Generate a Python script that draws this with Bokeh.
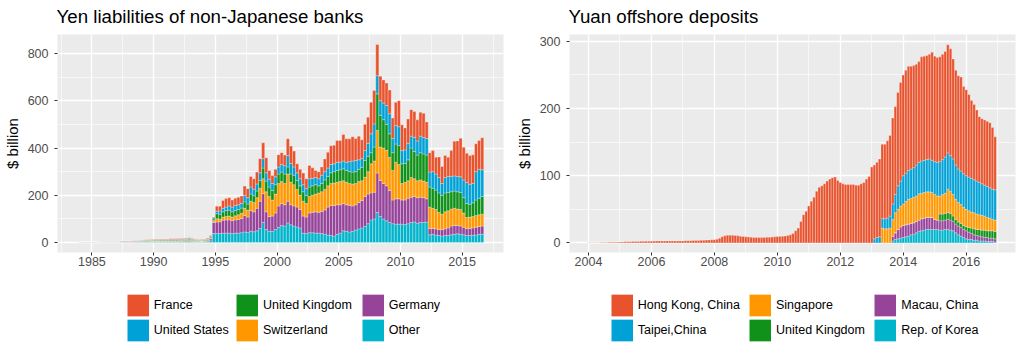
from bokeh.plotting import figure
from bokeh.models import ColumnDataSource, Legend, LegendItem, FixedTicker, Range1d
from bokeh.layouts import row, column
from bokeh.embed import file_html
from bokeh.resources import INLINE

FONT = "Liberation Sans"
RED, BLUE, GREEN, ORANGE, PURPLE, CYAN = "#E8532E", "#00A1D6", "#10921A", "#FF9800", "#96449A", "#00B5CB"

# ---------------- Left panel: yen liabilities, quarterly 1984Q1 .. 2016Q3 ($ billion)
yen_first_year = 1984
yen_other = [
    .6, .6, .6, .6, .6, .6, .8, .8, .8, .8, 1, 1, 1, 1.2, 1.4, 1.4,
    1.4, 1.6, 1.6, 1.8, 2, 2.4, 2.4, 2.6, 2.8, 2.8, 3, 3, 3, 3.2, 3.2, 3.2,
    3.4, 3.4, 3.6, 4, 3.4, 2.8, 2.4, 2.6, 3, 3.6, 8, 38,
    38, 38, 40, 40, 40, 38, 40, 40, 42, 45, 43, 48, 46, 50, 60, 85,
    55, 48, 48, 55, 65, 72, 70, 83, 75, 70, 66, 62, 40, 38, 42, 42,
    40, 40, 38, 36, 32, 30, 28, 35, 40, 50, 48, 45, 48, 53, 58, 62,
    68, 80, 96, 100, 127, 110, 100, 92, 85, 80, 78, 78, 78, 76, 80, 85,
    87, 82, 85, 85, 87, 33, 35, 32, 30, 28, 30, 30, 33, 35, 37, 35,
    33, 30, 30, 31, 32, 35, 35]
yen_germany = [
    .4, .4, .4, .4, .4, .4, .6, .6, .6, .6, .7, .7, .7, .9, 1, 1,
    1, 1.2, 1.2, 1.3, 1.5, 1.8, 1.8, 2, 2.1, 2.1, 2.2, 2.2, 2.2, 2.4, 2.4, 2.4,
    2.5, 2.5, 2.7, 3, 2.5, 2.1, 1.8, 2, 2.2, 2.7, 8, 47,
    49, 50, 55, 56, 56, 55, 56, 58, 60, 70, 65, 87, 84, 95, 115, 122,
    75, 62, 64, 70, 90, 93, 90, 92, 85, 85, 84, 78, 72, 70, 83, 86,
    90, 88, 94, 102, 118, 127, 129, 125, 120, 115, 112, 113, 107, 107, 112, 116,
    127, 125, 114, 113, 167, 153, 150, 148, 135, 100, 107, 107, 102, 104, 108, 107,
    108, 108, 107, 105, 98, 26, 25, 26, 25, 27, 28, 32, 37, 37, 35, 35,
    32, 29, 30, 31, 33, 33, 35]
yen_switzerland = [
    .5, .5, .5, .5, .5, .5, .6, .6, .6, .6, .8, .8, .8, .9, 1.1, 1.1,
    1.1, 1.2, 1.2, 1.4, 1.5, 1.8, 1.8, 1.9, 2.1, 2.1, 2.3, 2.3, 2.3, 2.4, 2.4, 2.4,
    2.6, 2.6, 2.7, 3, 2.6, 2.1, 1.8, 1.9, 2.3, 2.7, 4, 8,
    14, 12, 13, 14, 16, 15, 17, 20, 22, 30, 29, 40, 40, 45, 55, 63,
    85, 85, 68, 80, 95, 93, 90, 115, 95, 90, 75, 60, 63, 57, 70, 72,
    75, 82, 83, 87, 90, 93, 95, 95, 98, 97, 95, 92, 93, 90, 88, 84,
    81, 95, 123, 132, 180, 141, 150, 150, 140, 125, 155, 145, 70, 75, 74, 83,
    75, 72, 73, 70, 70, 91, 85, 82, 72, 65, 72, 73, 72, 73, 70, 70,
    60, 47, 48, 48, 50, 50, 50]
yen_uk = [
    .6, .6, .6, .6, .6, .6, .8, .8, .8, .8, 1, 1, 1, 1.2, 1.4, 1.4,
    1.4, 1.6, 1.6, 1.8, 2, 2.4, 2.4, 2.6, 2.8, 2.8, 3, 3, 3, 3.2, 3.2, 3.2,
    3.4, 3.4, 3.6, 4, 3.4, 2.8, 2.4, 2.6, 3, 3.6, 4, 7,
    21, 20, 22, 25, 25, 22, 23, 22, 22, 27, 26, 30, 28, 28, 32, 45,
    45, 40, 40, 40, 40, 40, 40, 30, 35, 40, 37, 40, 40, 35, 40, 40,
    40, 30, 35, 40, 40, 45, 48, 50, 50, 50, 50, 50, 50, 50, 52, 56,
    71, 65, 47, 59, 155, 134, 120, 110, 100, 75, 77, 80, 83, 80, 88, 125,
    115, 108, 115, 115, 115, 85, 85, 82, 83, 80, 80, 77, 73, 73, 73, 72,
    65, 59, 54, 58, 65, 70, 75]
yen_us = [
    .5, .5, .5, .5, .5, .5, .6, .6, .6, .6, .8, .8, .8, .9, 1.1, 1.1,
    1.1, 1.2, 1.2, 1.4, 1.5, 1.8, 1.8, 1.9, 2.1, 2.1, 2.3, 2.3, 2.3, 2.4, 2.4, 2.4,
    2.6, 2.6, 2.7, 3, 2.6, 2.1, 1.8, 1.9, 2.3, 2.7, 3, 5,
    11, 14, 15, 15, 18, 20, 21, 20, 20, 28, 27, 30, 28, 30, 33, 40,
    35, 33, 30, 33, 30, 32, 35, 48, 45, 35, 33, 30, 30, 28, 35, 32,
    30, 30, 35, 35, 35, 35, 33, 35, 32, 33, 35, 42, 47, 47, 40, 37,
    42, 55, 80, 98, 77, 62, 70, 80, 85, 60, 78, 80, 56, 57, 70, 50,
    60, 60, 70, 70, 70, 63, 70, 68, 65, 50, 65, 68, 65, 64, 65, 66,
    75, 89, 85, 82, 120, 122, 113]
yen_france = [
    .4, .4, .4, .4, .4, .4, .6, .6, .6, .6, .7, .7, .7, .9, 1, 1,
    1, 1.2, 1.2, 1.3, 1.5, 1.8, 1.8, 2, 2.1, 2.1, 2.2, 2.2, 2.2, 2.4, 2.4, 2.4,
    2.5, 2.5, 2.7, 3, 2.5, 2.1, 1.8, 2, 2.2, 2.7, 3, 3,
    21, 20, 33, 36, 35, 30, 31, 32, 31, 39, 38, 45, 44, 50, 60, 67,
    64, 37, 34, 32, 52, 50, 45, 71, 73, 67, 38, 40, 49, 42, 56, 44,
    30, 30, 35, 54, 67, 80, 79, 92, 92, 112, 99, 97, 103, 93, 100, 80,
    111, 110, 133, 141, 132, 103, 98, 95, 100, 87, 98, 110, 109, 93, 103, 112,
    109, 89, 101, 102, 70, 82, 89, 71, 87, 72, 93, 81, 109, 147, 150, 163,
    138, 124, 121, 121, 118, 122, 135]
yen_names = ["France", "United States", "United Kingdom", "Switzerland", "Germany", "Other"]
yen_x_ticks = [1985, 1990, 1995, 2000, 2005, 2010, 2015]
yen_y_ticks = [0, 200, 400, 600, 800]

# ---------------- Right panel: yuan offshore deposits, monthly Jan 2004 .. Dec 2016 ($ billion)
cny_first_year = 2004
cny_hk = [
    0.1, 0.1, 0.2, 0.3, 0.4, 0.5, 0.6, 0.7, 0.8, 0.9, 1.0, 1.1,
    1.3, 1.4, 1.6, 1.7, 1.8, 2.0, 2.1, 2.2, 2.3, 2.4, 2.5, 2.6,
    2.6, 2.7, 2.7, 2.8, 2.8, 2.9, 2.9, 2.9, 2.9, 2.9, 2.9, 3.0,
    3.0, 3.1, 3.2, 3.3, 3.4, 3.5, 3.6, 3.8, 4.0, 4.2, 4.4, 4.6,
    4.8, 5.5, 7.0, 9.0, 10.5, 11.2, 11.5, 11.3, 11.0, 10.5, 10.0, 9.5,
    9.0, 8.6, 8.3, 8.1, 8.0, 8.0, 8.0, 8.1, 8.3, 8.5, 8.7, 9.0,
    9.5, 9.7, 10, 10.3, 11, 12, 14, 18, 22, 32, 42, 47,
    55, 62, 68, 77, 83, 85, 88, 92, 95, 97, 98, 93,
    90, 88, 87, 87, 87, 87, 86, 86, 88, 90, 95, 99,
    113, 110, 112, 116, 111, 111, 115, 120, 128, 131, 139, 147,
    150, 153, 155, 153, 152, 150, 150, 155, 155, 155, 156, 161,
    157, 156, 156, 157, 157, 161, 159, 149, 141, 139, 140, 130,
    128, 123, 116, 112, 106, 98, 97, 97, 97, 97, 92, 79]
cny_none_before_2013 = [0] * 108
cny_taipei = cny_none_before_2013 + [
    0, 6, 8, 9, 14, 15, 16, 18, 23, 27, 35, 37,
    42, 42, 43, 44, 44, 46, 47, 48, 48, 48, 49, 48,
    49, 50, 51, 52, 54, 54, 53, 53, 51, 50, 50, 50,
    50, 50, 50, 49, 49, 48, 47, 46, 46, 45, 45, 45]
cny_singapore = cny_none_before_2013 + [
    0, 0, 0, 0, 22, 21, 21, 22, 25, 30, 30, 31,
    32, 35, 37, 37, 38, 38, 39, 38, 38, 38, 38, 37,
    37, 36, 27, 29, 30, 35, 33, 32, 30, 29, 28, 27,
    26, 25, 24, 24, 23, 22, 22, 21, 20, 19, 17, 17]
cny_uk = cny_none_before_2013 + [
    0, 0, 0, 0, 0, 0, 0, 0, 0, 0, 0, 0,
    0, 0, 0, 0, 0, 0, 0, 0, 0, 0, 0, 0,
    0, 0, 10, 10, 10, 10, 10, 8, 7, 6, 6, 6,
    6, 7, 8, 9, 9, 10, 10, 11, 10, 11, 11, 11]
cny_macau = cny_none_before_2013 + [
    0, 0, 0, 0, 0, 0, 0, 0, 7, 10, 14, 17,
    18, 18, 18, 17, 17, 17, 17, 18, 18, 18, 18, 18,
    15, 14, 14, 14, 14, 15, 15, 14, 13, 13, 13, 12,
    12, 11, 9, 8, 7, 7, 6, 5, 6, 5, 5, 4.5]
cny_korea = cny_none_before_2013 + [
    0, 0, 0, 0, 0, 0, 0, 0, 3, 5, 6, 7,
    8, 9, 10, 12, 13, 15, 17, 18, 19, 20, 20, 20,
    20, 20, 19, 19, 20, 20, 19, 18, 15, 12, 10, 8,
    6, 5, 5, 4, 4, 3, 3, 3, 2, 2, 2, 1.5]
cny_names = ["Hong Kong, China", "Taipei,China", "Singapore", "United Kingdom", "Macau, China", "Rep. of Korea"]
cny_x_ticks = [2004, 2006, 2008, 2010, 2012, 2014, 2016]
cny_y_ticks = [0, 100, 200, 300]

MAIN_H = 290
LEG_H = 68


def style_panel(p, title):
    p.title.text = title
    p.title.text_font = FONT
    p.title.text_font_size = "18.7px"
    p.title.text_font_style = "normal"
    p.title.text_color = "black"
    p.title.align = "left"
    p.title.vertical_align = "top"
    p.title.offset = -1
    p.title.standoff = 11
    p.background_fill_color = "#EBEBEB"
    p.border_fill_color = "white"
    p.outline_line_color = None
    for g in (p.xgrid[0], p.ygrid[0]):
        g.grid_line_color = "white"
        g.grid_line_width = 1.3
        g.minor_grid_line_color = "white"
        g.minor_grid_line_width = 0.6
    for ax in (p.xaxis[0], p.yaxis[0]):
        ax.axis_line_color = None
        ax.major_tick_line_color = "#333333"
        ax.major_tick_in = 0
        ax.major_tick_out = 3
        ax.minor_tick_line_color = None
        ax.major_label_text_font = FONT
        ax.major_label_text_font_size = "12.5px"
        ax.major_label_text_color = "#4D4D4D"
        ax.axis_label_text_font = FONT
        ax.axis_label_text_font_size = "15px"
        ax.axis_label_text_font_style = "normal"
        ax.axis_label_text_color = "black"
    p.xaxis[0].major_label_standoff = 0
    p.yaxis[0].major_label_standoff = 5
    p.yaxis[0].axis_label = "$ billion"
    p.yaxis[0].axis_label_standoff = 4


def legend_figure(source, fields, names, colors, col_x):
    lf = figure(width=512, height=LEG_H, x_range=Range1d(0, 1), y_range=Range1d(0, 1),
                x_axis_type=None, y_axis_type=None, output_backend="svg", toolbar_location=None,
                min_border=0, outline_line_color=None)
    lf.background_fill_color = "white"
    lf.border_fill_color = "white"
    items = []
    # legend keys: series drawn as thick lines (they fall outside this figure's ranges,
    # so only the legend glyphs show)
    for fld, name, colr in zip(fields, names, colors):
        r = lf.line(x="x", y=fld, source=source, line_color=colr, line_width=21.7, line_cap="butt")
        items.append(LegendItem(label=name, renderers=[r]))
    for c in range(3):
        lg = Legend(items=items[2 * c:2 * c + 2], location=(col_x[c], 16),
                    orientation="vertical", glyph_width=22, glyph_height=24, spacing=1,
                    label_standoff=5, padding=0, margin=0, border_line_color=None,
                    background_fill_alpha=0, label_text_font=FONT,
                    label_text_font_size="12.5px", label_text_color="black")
        lf.add_layout(lg, "center")
    return lf


# ---------------- build left
yen_x = [yen_first_year + 0.125 + 0.25 * i for i in range(len(yen_france))]
src_l = ColumnDataSource(dict(x=yen_x, other=yen_other, germany=yen_germany, switzerland=yen_switzerland,
                              uk=yen_uk, us=yen_us, france=yen_france))
pl = figure(width=512, height=MAIN_H, x_range=Range1d(1982.21, 2018.35), y_range=Range1d(-41.9, 880),
            output_backend="svg", toolbar_location=None,
            min_border_left=57, min_border_right=9, min_border_top=0, min_border_bottom=38)
style_panel(pl, "Yen liabilities of non-Japanese banks")
pl.vbar_stack(["other", "germany", "switzerland", "uk", "us", "france"], x="x", width=0.25,
              color=[CYAN, PURPLE, ORANGE, GREEN, BLUE, RED], line_color="white", line_width=0.3,
              source=src_l)
pl.xaxis[0].ticker = FixedTicker(ticks=yen_x_ticks, minor_ticks=[t + 2.5 for t in [1980] + yen_x_ticks])
pl.yaxis[0].ticker = FixedTicker(ticks=yen_y_ticks, minor_ticks=[100, 300, 500, 700])
ll = legend_figure(src_l, ["france", "us", "uk", "switzerland", "germany", "other"], yen_names,
                   [RED, BLUE, GREEN, ORANGE, PURPLE, CYAN], [126.7, 236, 361.7])

# ---------------- build right
cny_x = [cny_first_year + i / 12 for i in range(len(cny_hk))]
src_r = ColumnDataSource(dict(x=cny_x, korea=cny_korea, macau=cny_macau, uk=cny_uk, sg=cny_singapore,
                              tw=cny_taipei, hk=cny_hk))
pr = figure(width=512, height=MAIN_H, x_range=Range1d(2003.397, 2017.565), y_range=Range1d(-14.3, 310.3),
            output_backend="svg", toolbar_location=None,
            min_border_left=57, min_border_right=9, min_border_top=0, min_border_bottom=38)
style_panel(pr, "Yuan offshore deposits")
pr.vbar_stack(["korea", "macau", "uk", "sg", "tw", "hk"], x="x", width=1 / 12,
              color=[CYAN, PURPLE, GREEN, ORANGE, BLUE, RED], line_color="white", line_width=0.3,
              source=src_r)
pr.xaxis[0].ticker = FixedTicker(ticks=cny_x_ticks, minor_ticks=[t + 1 for t in cny_x_ticks])
pr.yaxis[0].ticker = FixedTicker(ticks=cny_y_ticks, minor_ticks=[50, 150, 250])
lr = legend_figure(src_r, ["hk", "tw", "sg", "uk", "macau", "korea"], cny_names,
                   [RED, BLUE, ORANGE, GREEN, PURPLE, CYAN], [98.7, 237, 362.3])

layout = column(row(pl, pr), row(ll, lr))
open("out.html", "w").write(file_html(layout, INLINE))
